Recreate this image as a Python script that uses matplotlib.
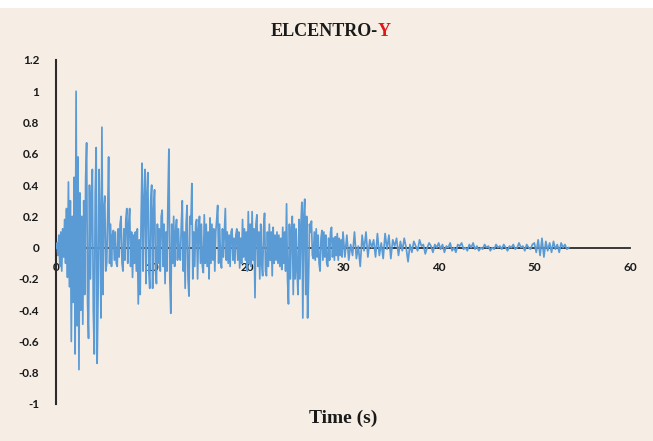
import numpy as np
import matplotlib
matplotlib.use("Agg")
import matplotlib.pyplot as plt
from matplotlib.patches import Rectangle

# El Centro Y component, ground acceleration (g)
# strong-motion part sampled every 0.1 s (0 - 29.9 s)
acc_strong = [
    0.0, 0.03, -0.05, 0.08, -0.12, 0.1, -0.15, 0.12, -0.06, 0.18,
    -0.1, 0.25, -0.19, 0.42, -0.25, 0.3, -0.6, 0.2, -0.35, 0.45,
    -0.68, 1.0, -0.5, 0.58, -0.78, 0.35, -0.4, 0.2, -0.49, 0.3,
    -0.3, 0.45, 0.67, -0.35, -0.58, 0.4, -0.2, 0.3, 0.5, -0.4,
    -0.68, 0.35, 0.64, -0.74, -0.3, 0.5, 0.2, -0.45, 0.77, -0.3,
    0.25, 0.33, -0.15, -0.1, 0.2, 0.58, -0.1, 0.15, -0.12, 0.08,
    0.11, -0.08, 0.1, -0.1, -0.12, 0.12, -0.06, 0.15, 0.2, -0.1,
    -0.15, 0.12, -0.08, 0.18, 0.25, -0.1, 0.15, 0.25, -0.12, 0.1,
    -0.19, 0.08, -0.1, 0.1, -0.15, 0.12, -0.36, 0.05, -0.3, 0.2,
    0.54, -0.15, 0.3, 0.5, -0.23, 0.35, 0.48, -0.15, -0.26, 0.3,
    0.4, -0.26, 0.24, 0.37, -0.15, -0.23, 0.15, -0.1, 0.12, -0.15,
    0.2, 0.24, -0.12, 0.15, -0.23, 0.1, -0.15, 0.3, 0.63, -0.2,
    -0.42, 0.15, -0.1, 0.2, -0.12, 0.1, 0.18, -0.08, 0.12, -0.06,
    -0.08, 0.15, 0.3, -0.15, 0.1, -0.26, 0.15, 0.27, -0.2, -0.31,
    0.2, 0.15, 0.41, -0.2, 0.1, -0.12, 0.15, 0.18, -0.2, 0.12,
    0.2, -0.1, 0.15, -0.12, -0.16, 0.21, -0.1, 0.15, -0.12, 0.1,
    -0.2, 0.19, -0.1, 0.15, -0.08, 0.12, -0.15, 0.1, 0.18, 0.27,
    -0.1, 0.15, -0.08, -0.13, 0.12, -0.06, 0.1, 0.25, -0.08, 0.1,
    -0.1, 0.08, -0.12, 0.1, 0.12, -0.08, 0.06, -0.1, 0.08, 0.12,
    -0.08, 0.1, -0.13, 0.06, -0.1, 0.18, -0.06, 0.12, -0.08, 0.1,
    -0.15, 0.23, -0.1, 0.15, -0.12, 0.23, -0.08, 0.12, -0.32, 0.15,
    0.21, -0.12, 0.1, -0.2, 0.15, -0.1, -0.18, 0.12, 0.22, -0.15,
    -0.18, 0.1, -0.12, 0.15, -0.08, 0.1, -0.18, 0.13, -0.1, 0.08,
    -0.08, 0.1, -0.1, 0.08, -0.12, 0.06, -0.14, 0.13, -0.1, 0.1,
    -0.15, 0.28, -0.2, -0.36, 0.15, -0.2, 0.1, 0.2, -0.3, 0.15,
    -0.2, 0.12, -0.15, -0.3, 0.18, -0.2, 0.15, 0.29, -0.45, 0.2,
    0.31, -0.3, 0.2, -0.45, -0.2, 0.15, 0.1, 0.17, -0.05, -0.07,
    0.1, -0.08, 0.12, -0.06, 0.08, -0.1, -0.15, 0.06, 0.11, -0.08,
    0.1, -0.06, 0.08, -0.1, -0.12, 0.06, -0.08, 0.1, 0.13, -0.06,
    0.06, -0.08, 0.07, -0.05, 0.09, -0.08, 0.06, -0.05, 0.05, -0.06,
]

# coda, sampled every 0.2 s (30.0 - 53.6 s)
acc_coda = [
    0.1, -0.06, 0.08, -0.08, 0.02, -0.05, 0.1, -0.07, 0.01, -0.12,
    0.08, -0.02, 0.1, -0.06, 0.05, 0.0, 0.05, -0.06, 0.09, -0.05,
    0.03, -0.07, 0.09, -0.01, 0.08, -0.07, 0.05, 0.01, 0.06, -0.05,
    0.04, -0.02, 0.06, 0.0, -0.09, 0.02, -0.03, 0.04, 0.01, -0.02,
    0.05, 0.01, 0.02, -0.04, 0.0, 0.03, 0.01, -0.03, 0.02, 0.0,
    0.03, -0.01, 0.02, -0.03, 0.01, 0.0, 0.03, -0.02, 0.0, -0.03,
    0.02, 0.01, 0.03, -0.01, 0.0, -0.02, 0.02, 0.0, 0.03, -0.01,
    0.01, -0.02, 0.0, -0.01, 0.02, 0.0, 0.01, -0.02, 0.0, -0.01,
    0.02, 0.0, 0.01, -0.01, 0.02, 0.0, -0.02, 0.01, 0.0, 0.02,
    -0.01, 0.0, 0.03, 0.0, 0.01, -0.02, 0.02, 0.0, -0.01, 0.02,
    0.03, -0.03, 0.05, -0.05, 0.06, -0.06, 0.04, -0.02, 0.03, -0.03,
    0.04, -0.01, 0.02, -0.03, 0.03, 0.0, 0.02, -0.01, 0.0,
]

x_ticks = [0, 10, 20, 30, 40, 50, 60]
y_ticks = [-1, -0.8, -0.6, -0.4, -0.2, 0, 0.2, 0.4, 0.6, 0.8, 1, 1.2]
y_tick_labels = ["-1", "-0.8", "-0.6", "-0.4", "-0.2", "0",
                 "0.2", "0.4", "0.6", "0.8", "1", "1.2"]

t_strong = np.arange(len(acc_strong)) * 0.1
t_coda = 30.0 + np.arange(len(acc_coda)) * 0.2
time = np.concatenate([t_strong, t_coda])
acc = np.concatenate([acc_strong, acc_coda])

bg = "#F6EEE5"
fig = plt.figure(figsize=(6.53, 4.41), dpi=100, facecolor="white")
# beige panel below a thin white strip at the top
fig.patches.append(Rectangle((0, 0), 1, 1 - 8 / 441, transform=fig.transFigure,
                             facecolor=bg, edgecolor="none", zorder=-10))

ax = fig.add_axes([56 / 653, 1 - 404 / 441, 574 / 653, 344 / 441])
ax.set_facecolor("none")

ax.plot(time, acc, color="#5B9BD5", linewidth=1.25, zorder=3)

ax.set_xlim(0, 60)
ax.set_ylim(-1, 1.2)

# zero line acts as the time axis
ax.spines["bottom"].set_position(("data", 0))
ax.spines["bottom"].set_color("#2b2b2b")
ax.spines["bottom"].set_linewidth(1.3)
ax.spines["bottom"].set_zorder(1)
ax.spines["left"].set_color("#2b2b2b")
ax.spines["left"].set_linewidth(1.5)
ax.spines["top"].set_visible(False)
ax.spines["right"].set_visible(False)

ax.set_xticks(x_ticks)
ax.set_yticks(y_ticks)
ax.set_yticklabels(y_tick_labels)
ax.tick_params(axis="both", length=0, labelsize=8.5, labelcolor="#1a1a1a")
ax.tick_params(axis="x", pad=10)
ax.tick_params(axis="y", pad=12)
for lab in ax.get_xticklabels() + ax.get_yticklabels():
    lab.set_fontweight("bold")
    lab.set_family("Lato")

# title with the component letter in red
title_y = 1 - 32 / 441
t1 = fig.text(0.5, title_y, "ELCENTRO-", family="Liberation Serif", weight="bold",
              fontsize=13, color="#1a1a1a", ha="right", va="center")
fig.canvas.draw()
bb = t1.get_window_extent()
w1 = bb.width / fig.bbox.width
t2 = fig.text(0.5, title_y, "Y", family="Liberation Serif", weight="bold",
              fontsize=13, color="#E0161B", ha="left", va="center")
w2 = t2.get_window_extent().width / fig.bbox.width
shift = 331 / 653 - 0.5 - (w2 - w1) / 2
t1.set_x(0.5 + shift)
t2.set_x(0.5 + shift)

fig.text(343 / 653, 1 - 418 / 441, "Time (s)", family="Liberation Serif",
         weight="bold", fontsize=14, color="#1a1a1a", ha="center", va="center")

fig.savefig("out.png", dpi=100, facecolor=fig.get_facecolor())
